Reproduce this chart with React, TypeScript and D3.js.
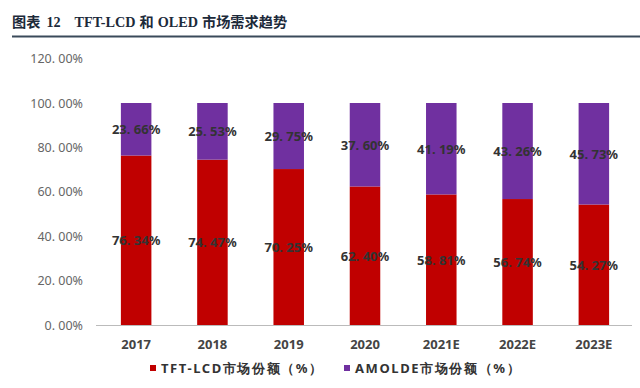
import React from "react";
import * as d3 from "d3";

const categories = ["2017", "2018", "2019", "2020", "2021E", "2022E", "2023E"];
const lcdShare = [76.34, 74.47, 70.25, 62.4, 58.81, 56.74, 54.27];
const oledShare = [23.66, 25.53, 29.75, 37.6, 41.19, 43.26, 45.73];
const yTicks = [0, 20, 40, 60, 80, 100, 120];
const seriesNames = ["TFT-LCD市场份额（%）", "AMOLDE市场份额（%）"];
const colors = ["#C00000", "#7030A0"];

const W = 640;
const H = 388;
const left = 98;
const right = 632;
const top = 58.6;
const bottom = 325;

export default function App() {
  const x = d3.scaleBand<string>().domain(categories).range([left, right]).paddingInner(0.6).paddingOuter(0.3);
  const y = d3.scaleLinear().domain([0, 120]).range([bottom, top]);
  const bw = x.bandwidth();
  const fmt = (v: number) => v.toFixed(2).replace(".", ". ") + "%";
  const font = "'Noto Sans', 'Liberation Sans', sans-serif";
  const titleFont = "'Liberation Serif', 'Noto Sans CJK SC', serif";
  return (
    <svg width={W} height={H} style={{ position: "absolute", left: 0, top: 0, background: "#fff" }}>
      <rect x={0} y={0} width={W} height={H} fill="#fff" />
      <text x={12} y={27} fontFamily={titleFont} fontWeight="bold" fontSize={14.2} fill="#1c2a3a">
        <tspan>图表</tspan>
        <tspan dx={6}>12</tspan>
        <tspan dx={14}>TFT-LCD</tspan>
        <tspan dx={4}>和</tspan>
        <tspan dx={4}>OLED</tspan>
        <tspan dx={4}>市场需求趋势</tspan>
      </text>
      <line x1={12} x2={640} y1={36.5} y2={36.5} stroke="#3a4a5a" strokeWidth={2} />
      {yTicks.map((t) => (
        <text key={t} x={83} y={y(t) + 4.5} textAnchor="end" fontFamily={font} fontSize={12.5} fill="#666">
          {t.toFixed(2).replace(".", ". ") + "%"}
        </text>
      ))}
      {categories.map((c, i) => {
        const x0 = x(c)!;
        const yl = y(lcdShare[i]);
        const yo = y(lcdShare[i] + oledShare[i]);
        return (
          <g key={c}>
            <rect x={x0} y={yl} width={bw} height={bottom - yl} fill={colors[0]} />
            <rect x={x0} y={yo} width={bw} height={yl - yo} fill={colors[1]} />
            <text x={x0 + bw / 2} y={(yl + bottom) / 2 + 5} textAnchor="middle" fontFamily={font} fontWeight="bold" fontSize={13} fill="#333">
              {fmt(lcdShare[i])}
            </text>
            <text x={x0 + bw / 2} y={(yo + yl) / 2 + 5} textAnchor="middle" fontFamily={font} fontWeight="bold" fontSize={13} fill="#333">
              {fmt(oledShare[i])}
            </text>
            <text x={x0 + bw / 2} y={349} textAnchor="middle" fontFamily={font} fontWeight="bold" fontSize={13} fill="#444">
              {c}
            </text>
          </g>
        );
      })}
      <line x1={96} x2={right} y1={bottom + 0.5} y2={bottom + 0.5} stroke="#bbb" strokeWidth={1} />
      {seriesNames.map((s, i) => {
        const lx = i === 0 ? 150 : 344;
        return (
          <g key={s}>
            <rect x={lx} y={365} width={6} height={6} fill={colors[i]} />
            <text x={lx + 11} y={373} fontFamily={font} fontWeight="bold" fontSize={13} letterSpacing={1.6} fill="#333">
              {s}
            </text>
          </g>
        );
      })}
    </svg>
  );
}
